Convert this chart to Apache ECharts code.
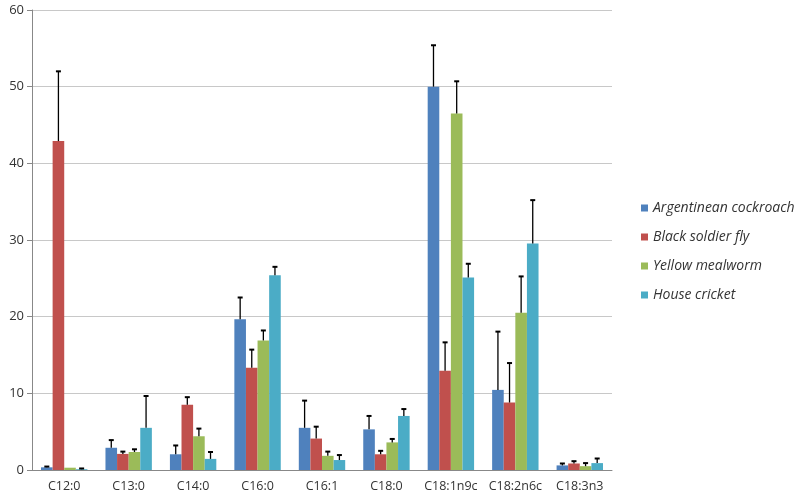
<!DOCTYPE html>
<html>
<head>
<meta charset="utf-8">
<script src="https://cdn.jsdelivr.net/npm/echarts@6/dist/echarts.min.js"></script>
<style>html,body{margin:0;padding:0;background:#fff}#c{width:800px;height:499px}</style>
</head>
<body>
<div id="c"></div>
<script>
const categories = ['C12:0','C13:0','C14:0','C16:0','C16:1','C18:0','C18:1n9c','C18:2n6c','C18:3n3'];
const seriesNames = ['Argentinean cockroach','Black soldier fly','Yellow mealworm','House cricket'];
const cockroach   = [0.35, 2.9, 2.05, 19.65, 5.5, 5.3, 50.0, 10.45, 0.6];
const cockroachSD = [0.1, 1.0, 1.15, 2.85, 3.55, 1.75, 5.4, 7.6, 0.25];
const soldierFly   = [42.9, 2.1, 8.5, 13.35, 4.1, 2.05, 12.95, 8.8, 0.85];
const soldierFlySD = [9.1, 0.3, 1.0, 2.35, 1.55, 0.45, 3.7, 5.15, 0.3];
const mealworm   = [0.3, 2.35, 4.4, 16.9, 1.85, 3.6, 46.5, 20.5, 0.5];
const mealwormSD = [0, 0.35, 1.0, 1.3, 0.55, 0.45, 4.2, 4.75, 0.4];
const cricket   = [0.1, 5.5, 1.45, 25.4, 1.3, 7.05, 25.1, 29.55, 0.9];
const cricketSD = [0.1, 4.15, 0.9, 1.1, 0.65, 0.9, 1.8, 5.65, 0.6];
const yTicks = [0, 10, 20, 30, 40, 50, 60];

const colors = ['#4F81BD','#C0504D','#9BBB59','#4BACC6'];
const values = [cockroach, soldierFly, mealworm, cricket];
const sds = [cockroachSD, soldierFlySD, mealwormSD, cricketSD];
const gapRatio = 0.28;

const series = [];
values.forEach((v, k) => {
  series.push({
    name: seriesNames[k], type: 'bar', data: v,
    barGap: '0%', barCategoryGap: (gapRatio*100)+'%',
    itemStyle: { color: colors[k] }, z: 2
  });
});
values.forEach((v, k) => {
  series.push({
    name: 'err' + k, type: 'custom', z: 3,
    data: v.map((val, i) => [i, val, val + sds[k][i]]),
    renderItem: function (params, api) {
      const i = api.value(0);
      if (api.value(2) <= api.value(1)) return null;
      const band = api.size([1, 0])[0];
      const bw = band * (1 - gapRatio) / 4;
      const p0 = api.coord([i, api.value(1)]);
      const p1 = api.coord([i, api.value(2)]);
      const x = p0[0] + (k - 1.5) * bw;
      const st = { stroke: '#000', lineWidth: 1.3 };
      return { type: 'group', children: [
        { type: 'line', shape: { x1: x, y1: p0[1], x2: x, y2: p1[1] }, style: st },
        { type: 'line', shape: { x1: x - 2.5, y1: p1[1], x2: x + 2.5, y2: p1[1] }, style: { stroke: '#000', lineWidth: 2 } }
      ]};
    }
  });
});

const chart = echarts.init(document.getElementById('c'));
chart.setOption({
  animation: false,
  textStyle: { fontFamily: 'Open Sans' },
  grid: { left: 32, right: 188, top: 10, bottom: 29 },
  legend: {
    data: seriesNames, orient: 'vertical', left: 636, top: 196,
    itemWidth: 7, itemHeight: 7, itemGap: 15, icon: 'rect',
    textStyle: { fontStyle: 'italic', fontSize: 14, color: '#333', lineHeight: 14, fontFamily: 'Open Sans' }
  },
  xAxis: {
    type: 'category', data: categories,
    axisLine: { lineStyle: { color: '#888' } },
    axisTick: { length: 5, lineStyle: { color: '#888' } },
    axisLabel: { color: '#333', fontSize: 12.5, margin: 10, interval: 0 }
  },
  yAxis: {
    type: 'value', min: yTicks[0], max: yTicks[yTicks.length-1], interval: 10,
    axisLine: { show: true, lineStyle: { color: '#888' } },
    axisTick: { show: true, length: 5, lineStyle: { color: '#888' } },
    splitLine: { lineStyle: { color: '#c8c8c8' } },
    axisLabel: { color: '#333', fontSize: 13, margin: 8 }
  },
  series: series
});
</script>
</body>
</html>
